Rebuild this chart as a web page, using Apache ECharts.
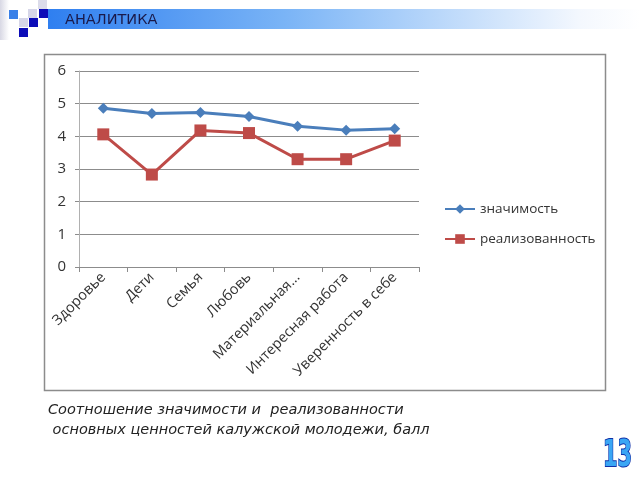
<!DOCTYPE html>
<html><head><meta charset="utf-8">
<script src="https://cdn.jsdelivr.net/npm/echarts@6/dist/echarts.min.js"></script>
<style>html,body{margin:0;padding:0;background:#fff}#c{width:640px;height:480px}</style>
</head><body><div id="c"></div>
<script>
var categories = ['Здоровье','Дети','Семья','Любовь','Материальная...','Интересная работа','Уверенность в себе'];
var seriesNames = ['значимость','реализованность'];
var valuesZnach = [4.86,4.70,4.73,4.61,4.31,4.19,4.23];
var valuesReal = [4.06,2.83,4.18,4.10,3.30,3.30,3.87];
var yTicks = [0,1,2,3,4,5,6];
var headerText = 'АНАЛИТИКА';
var captionLines = ['Соотношение значимости и  реализованности',' основных ценностей калужской молодежи, балл'];
var pageNumber = '13';

var chart = echarts.init(document.getElementById('c'));
var sq = function(x,y,c){return {type:'rect',shape:{x:x,y:y,width:9,height:9},style:{fill:c},silent:true};};
chart.setOption({
  animation:false,
  backgroundColor:'#fff',
  graphic:[
    {type:'rect',shape:{x:0,y:0,width:9,height:40},style:{fill:new echarts.graphic.LinearGradient(0,0,1,0,[{offset:0,color:'#d8d8e4'},{offset:1,color:'#ffffff'}])},silent:true},
    {type:'rect',shape:{x:48,y:9,width:592,height:20},style:{fill:new echarts.graphic.LinearGradient(0,0,1,0,[{offset:0,color:'#2f7ff0'},{offset:0.4,color:'#7ab4f6'},{offset:0.9,color:'#f4f8fe'},{offset:1,color:'#ffffff'}])},silent:true},
    sq(9,10,'#3a80e8'),
    sq(28,9,'#d6d6e8'),
    sq(38,0,'#dcdcea'),
    sq(39,9,'#0c0cb8'),
    sq(19,18,'#d6d6e8'),
    sq(29,18,'#0c0cb8'),
    sq(19,28,'#0c0cb8'),
    {type:'text',left:65,top:13,style:{text:headerText,font:'14.5px "DejaVu Sans"',fill:'#1a1a4a'},silent:true},
    {type:'rect',shape:{x:44.5,y:54.5,width:561,height:336},style:{fill:'none',stroke:'#8c8c8c',lineWidth:1.5},silent:true},
    {type:'text',left:48,top:403,style:{text:captionLines[0],font:'italic 14.5px "DejaVu Sans"',fill:'#222'},silent:true},
    {type:'text',left:48,top:423,style:{text:captionLines[1],font:'italic 14.5px "DejaVu Sans"',fill:'#222'},silent:true},
    {type:'text',x:603,y:437,scaleX:0.55,style:{text:pageNumber,font:'bold 38px "DejaVu Sans"',fill:'#3aa6f4',stroke:'#1030a8',lineWidth:2,shadowBlur:4,shadowColor:'#2040c0',shadowOffsetX:2,shadowOffsetY:1},silent:true}
  ],
  legend:{
    orient:'vertical',left:444,top:202,padding:0,itemGap:16,itemWidth:30,itemHeight:12,
    data:seriesNames,
    textStyle:{fontSize:13.5,color:'#333',fontFamily:'"Open Sans", "DejaVu Sans"'}
  },
  grid:{left:79,right:221,top:71,bottom:213},
  xAxis:{
    type:'category',data:categories,boundaryGap:true,
    axisLine:{lineStyle:{color:'#8c8c8c'}},
    axisTick:{show:true,length:5,lineStyle:{color:'#8c8c8c'}},
    axisLabel:{rotate:45,fontSize:14.5,color:'#333',margin:8,interval:0,fontFamily:'"Open Sans", "DejaVu Sans"'}
  },
  yAxis:{
    type:'value',min:yTicks[0],max:yTicks[yTicks.length-1],interval:1,
    axisLine:{show:true,lineStyle:{color:'#b0b0b0'}},
    axisTick:{show:true,length:4,lineStyle:{color:'#8c8c8c'}},
    splitLine:{lineStyle:{color:'#8c8c8c'}},
    axisLabel:{fontSize:15,color:'#333',margin:13,fontFamily:'"Open Sans", "DejaVu Sans"'}
  },
  series:[
    {name:seriesNames[0],type:'line',data:valuesZnach,symbol:'diamond',symbolSize:11,
     lineStyle:{color:'#4a7ebb',width:3},itemStyle:{color:'#4a7ebb'}},
    {name:seriesNames[1],type:'line',data:valuesReal,symbol:'rect',symbolSize:12,
     lineStyle:{color:'#be4b48',width:3},itemStyle:{color:'#be4b48'}}
  ]
});
</script></body></html>
